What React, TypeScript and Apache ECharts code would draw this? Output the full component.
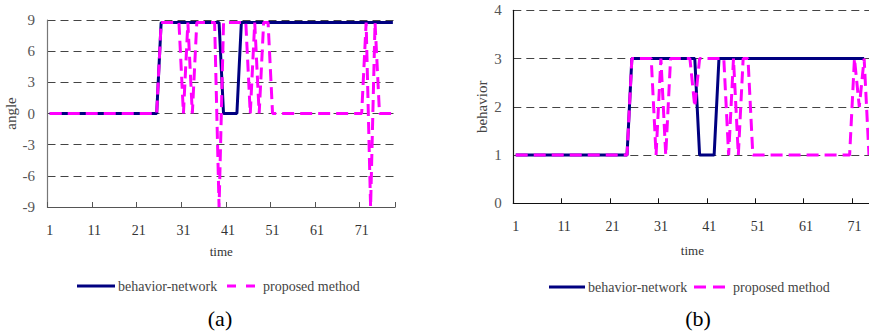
import React, { useEffect, useRef } from "react";
import * as echarts from "echarts";

// ---- data ----
const timeA = [
  1, 2, 3, 4, 5, 6, 7, 8, 9, 10, 11, 12, 13, 14, 15, 16, 17, 18, 19, 20,
  21, 22, 23, 24, 25, 26, 27, 28, 29, 30, 31, 32, 33, 34, 35, 36, 37, 38, 39, 40,
  41, 42, 43, 44, 45, 46, 47, 48, 49, 50, 51, 52, 53, 54, 55, 56, 57, 58, 59, 60,
  61, 62, 63, 64, 65, 66, 67, 68, 69, 70, 71, 72, 73, 74, 75, 76, 77, 78,
];
const timeB = [
  1, 2, 3, 4, 5, 6, 7, 8, 9, 10, 11, 12, 13, 14, 15, 16, 17, 18, 19, 20,
  21, 22, 23, 24, 25, 26, 27, 28, 29, 30, 31, 32, 33, 34, 35, 36, 37, 38, 39, 40,
  41, 42, 43, 44, 45, 46, 47, 48, 49, 50, 51, 52, 53, 54, 55, 56, 57, 58, 59, 60,
  61, 62, 63, 64, 65, 66, 67, 68, 69, 70, 71, 72, 73, 74,
];

// (a) angle
const angleNetwork = [
  0, 0, 0, 0, 0, 0, 0, 0, 0, 0, 0, 0, 0, 0, 0, 0, 0, 0, 0, 0, 0, 0, 0, 0, 0,
  8.75, 8.75, 8.75, 8.75, 8.75, 8.75, 8.75, 8.75, 8.75, 8.75, 8.75, 8.75, 8.75, 8.75,
  0, 0, 0, 0,
  8.75, 8.75, 8.75, 8.75, 8.75, 8.75, 8.75, 8.75, 8.75, 8.75, 8.75, 8.75, 8.75, 8.75,
  8.75, 8.75, 8.75, 8.75, 8.75, 8.75, 8.75, 8.75, 8.75, 8.75, 8.75, 8.75, 8.75, 8.75,
  8.75, 8.75, 8.75, 8.75, 8.75, 8.75, 8.75,
];
const angleProposed = [
  0, 0, 0, 0, 0, 0, 0, 0, 0, 0, 0, 0, 0, 0, 0, 0, 0, 0, 0, 0, 0, 0, 0, 0, 0,
  8.75, 8.75, 8.75, 8.75, 8.75, 0, 8.75, 0, 8.75, 8.75, 8.75, 8.75, 8.75, -9,
  8.75, 8.75, 8.75, 8.75, 8.75, 8.75, 0, 8.75, 0, 8.75, 8.75,
  0, 0, 0, 0, 0, 0, 0, 0, 0, 0, 0, 0, 0, 0, 0, 0, 0, 0, 0, 0, 0,
  8.75, -9, 8.75, 0, 0, 0, 0,
];

// (b) behavior
const behaviorNetwork = [
  1, 1, 1, 1, 1, 1, 1, 1, 1, 1, 1, 1, 1, 1, 1, 1, 1, 1, 1, 1, 1, 1, 1, 1,
  3, 3, 3, 3, 3, 3, 3, 3, 3, 3, 3, 3, 3, 3,
  1, 1, 1, 1,
  3, 3, 3, 3, 3, 3, 3, 3, 3, 3, 3, 3, 3, 3, 3, 3, 3, 3, 3, 3, 3, 3, 3, 3, 3, 3,
  3, 3, 3, 3, 3,
];
const behaviorProposed = [
  1, 1, 1, 1, 1, 1, 1, 1, 1, 1, 1, 1, 1, 1, 1, 1, 1, 1, 1, 1, 1, 1, 1, 1,
  3, 3, 3, 3, 3, 1, 3, 1, 3, 3, 3, 3, 3, 2,
  3, 3, 3, 3, 3, 3, 1, 3, 1, 3, 3,
  1, 1, 1, 1, 1, 1, 1, 1, 1, 1, 1, 1, 1, 1, 1, 1, 1, 1, 1, 1, 1,
  3, 2, 3, 1,
];

const seriesNames = ["behavior-network", "proposed method"];
const FONT = "'Liberation Serif', 'Times New Roman', serif";
const NAVY = "#000080";
const MAGENTA = "#FF00FF";

export default function App() {
  const ref = useRef<HTMLDivElement>(null);

  useEffect(() => {
    if (!ref.current) return;
    const chart = echarts.init(ref.current, null, { renderer: "svg" });

    const xAxisBase = (gridIndex: number, data: number[], margin: number, nameGap: number, lineColor: string) => ({
      type: "category",
      gridIndex,
      data: data.map(String),
      boundaryGap: true,
      name: "time",
      nameLocation: "middle",
      nameGap,
      nameTextStyle: { fontFamily: FONT, fontSize: 13, color: "#333" },
      axisLine: { show: true, onZero: false, lineStyle: { color: lineColor, width: 1.2 } },
      axisTick: { show: true, inside: true, length: 5, interval: 9, lineStyle: { color: lineColor } },
      axisLabel: { interval: 9, margin, fontFamily: FONT, fontSize: 14, color: "#333" },
      splitLine: { show: false },
    });

    const yAxisBase = (gridIndex: number, min: number, max: number, interval: number, name: string, nameGap: number, lineColor: string, margin: number) => ({
      type: "value",
      gridIndex,
      min,
      max,
      interval,
      name,
      nameLocation: "middle",
      nameRotate: 90,
      nameGap,
      nameTextStyle: { fontFamily: FONT, fontSize: 15, color: "#444" },
      axisLine: { show: true, lineStyle: { color: lineColor, width: 1.2 } },
      axisTick: { show: false },
      axisLabel: { margin, fontFamily: FONT, fontSize: 15, color: "#555" },
      splitLine: { show: true, lineStyle: { color: "#444", width: 1, type: [8, 5] } },
    });

    const lineSeries = (name: string, xi: number, data: number[], dashed: boolean) => ({
      name,
      type: "line",
      xAxisIndex: xi,
      yAxisIndex: xi,
      data,
      symbol: "none",
      showSymbol: false,
      lineStyle: dashed
        ? { color: MAGENTA, width: 3, type: [12, 6] }
        : { color: NAVY, width: 3 },
      itemStyle: { color: dashed ? MAGENTA : NAVY },
      z: dashed ? 3 : 2,
    });

    const legendGraphic = (
      blueX1: number, blueX2: number, textX1: number,
      magX1: number, magX2: number, textX2: number, y: number, dash: number[]
    ) => [
      { type: "line", shape: { x1: blueX1, y1: y, x2: blueX2, y2: y }, style: { stroke: NAVY, lineWidth: 3 } },
      { type: "text", x: textX1, y, style: { text: seriesNames[0], font: `14px ${FONT}`, fill: "#444", verticalAlign: "middle", align: "left" } },
      { type: "line", shape: { x1: magX1, y1: y, x2: magX2, y2: y }, style: { stroke: MAGENTA, lineWidth: 3, lineDash: dash } },
      { type: "text", x: textX2, y, style: { text: seriesNames[1], font: `14px ${FONT}`, fill: "#444", verticalAlign: "middle", align: "left" } },
    ];

    chart.setOption({
      animation: false,
      backgroundColor: "#fff",
      grid: [
        { left: 47.5, top: 20, width: 347.6, height: 187 },
        { left: 513.3, top: 10.3, width: 358.1, height: 193 },
      ],
      xAxis: [
        xAxisBase(0, timeA, 16, 38, "#555"),
        xAxisBase(1, timeB, 16, 41, "#111"),
      ],
      yAxis: [
        yAxisBase(0, -9, 9, 3, "angle", 28.5, "#777", 12.5),
        yAxisBase(1, 0, 4, 1, "behavior", 23.5, "#111", 11.6),
      ],
      series: [
        lineSeries(seriesNames[0], 0, angleNetwork, false),
        lineSeries(seriesNames[1], 0, angleProposed, true),
        lineSeries(seriesNames[0], 1, behaviorNetwork, false),
        lineSeries(seriesNames[1], 1, behaviorProposed, true),
      ],
      graphic: [
        ...legendGraphic(77, 115, 118, 227, 255, 263, 286, [9, 10]),
        ...legendGraphic(549, 585, 588, 694, 725, 733, 287, [12, 7]),
        { type: "text", x: 220, y: 318, style: { text: "(a)", font: `22px ${FONT}`, fill: "#000", align: "center", verticalAlign: "middle" } },
        { type: "text", x: 698, y: 318, style: { text: "(b)", font: `22px ${FONT}`, fill: "#000", align: "center", verticalAlign: "middle" } },
      ],
    });

    return () => chart.dispose();
  }, []);

  return (
    <div
      ref={ref}
      style={{ position: "fixed", left: 0, top: 0, width: 880, height: 331, background: "#fff" }}
    />
  );
}
